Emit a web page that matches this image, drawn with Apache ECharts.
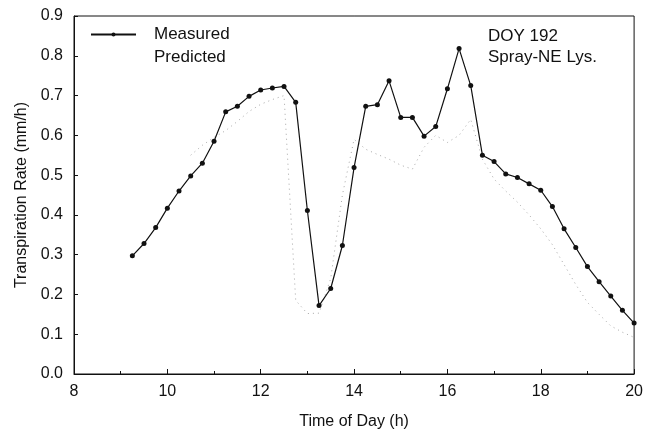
<!DOCTYPE html>
<html>
<head>
<meta charset="utf-8">
<script src="https://cdn.jsdelivr.net/npm/echarts@6/dist/echarts.min.js"></script>
<style>html,body{margin:0;padding:0;background:#fff}#c{width:646px;height:435px}</style>
</head>
<body>
<div id="c"></div>
<script>
var measuredTime = [9.25,9.5,9.75,10,10.25,10.5,10.75,11,11.25,11.5,11.75,12,12.25,12.5,12.75,13,13.25,13.5,13.75,14,14.25,14.5,14.75,15,15.25,15.5,15.75,16,16.25,16.5,16.75,17,17.25,17.5,17.75,18,18.25,18.5,18.75,19,19.25,19.5,19.75,20];
var measuredRate = [0.297,0.328,0.368,0.417,0.460,0.498,0.530,0.585,0.659,0.673,0.698,0.714,0.719,0.723,0.683,0.411,0.172,0.215,0.323,0.519,0.673,0.677,0.737,0.645,0.645,0.598,0.622,0.717,0.818,0.725,0.550,0.534,0.503,0.494,0.478,0.462,0.421,0.365,0.318,0.270,0.232,0.196,0.160,0.128];
var predictedTime = [10.5,10.75,11,11.25,11.5,11.75,12,12.25,12.5,12.75,13,13.25,13.5,13.75,14,14.25,14.5,14.75,15,15.25,15.5,15.75,16,16.25,16.5,16.75,17,17.25,17.5,17.75,18,18.25,18.5,18.75,19,19.25,19.5,19.75,20];
var predictedRate = [0.550,0.575,0.595,0.612,0.635,0.660,0.678,0.690,0.700,0.185,0.152,0.153,0.240,0.450,0.590,0.565,0.552,0.540,0.525,0.515,0.570,0.600,0.582,0.600,0.640,0.540,0.490,0.460,0.432,0.400,0.365,0.325,0.275,0.225,0.180,0.150,0.121,0.105,0.092];
var xTicks = [8,10,12,14,16,18,20];
var yTicks = [0,0.1,0.2,0.3,0.4,0.5,0.6,0.7,0.8,0.9];

function pairs(xs, ys){ return xs.map(function(x,i){ return [x, ys[i]]; }); }

var FONT = '"Liberation Sans", Arial, Helvetica, sans-serif';
var chart = echarts.init(document.getElementById('c'), null, {renderer:'canvas'});
chart.setOption({
  backgroundColor:'#fff',
  animation:false,
  textStyle:{fontFamily:FONT, color:'#111'},
  title:{
    text:'DOY 192\nSpray-NE Lys.',
    left:483, top:21,
    textStyle:{fontFamily:FONT, fontSize:17, fontWeight:'normal', color:'#111', lineHeight:21}
  },
  legend:{
    orient:'vertical', left:85, top:20,
    itemWidth:45, itemHeight:5, itemGap:4,
    textStyle:{fontFamily:FONT, fontSize:17, color:'#111', lineHeight:19, padding:[0,0,0,13]},
    data:[{name:'Measured'},{name:'Predicted', icon:'none'}]
  },
  grid:{left:74, right:8, top:16, bottom:58, show:true, borderColor:'#111', borderWidth:1, backgroundColor:'transparent'},
  xAxis:{
    type:'value', min:xTicks[0], max:xTicks[xTicks.length-1], interval:2,
    name:'Time of Day (h)', nameLocation:'middle', nameGap:40,
    nameTextStyle:{fontFamily:FONT, fontSize:16, color:'#111'},
    axisLine:{show:true, lineStyle:{color:'#111', width:1}},
    axisTick:{show:true, inside:true, length:5, lineStyle:{color:'#111'}},
    minorTick:{show:true, splitNumber:2, length:3, lineStyle:{color:'#111'}},
    axisLabel:{fontFamily:FONT, fontSize:16, color:'#111', margin:10},
    splitLine:{show:false}
  },
  yAxis:{
    type:'value', min:yTicks[0], max:yTicks[yTicks.length-1], interval:0.1,
    name:'Transpiration Rate (mm/h)', nameLocation:'middle', nameGap:44,
    nameTextStyle:{fontFamily:FONT, fontSize:16, color:'#111'},
    axisLine:{show:true, lineStyle:{color:'#111', width:1}},
    axisTick:{show:true, inside:true, length:4, lineStyle:{color:'#111'}},
    axisLabel:{fontFamily:FONT, fontSize:16, color:'#111', margin:11, formatter:function(v){return v.toFixed(1);}},
    splitLine:{show:false}
  },
  series:[
    {
      name:'Measured', type:'line', data:pairs(measuredTime, measuredRate),
      symbol:'circle', symbolSize:5, showSymbol:true,
      lineStyle:{color:'#111', width:1.2},
      itemStyle:{color:'#111'},
      z:3
    },
    {
      name:'Predicted', type:'line', data:pairs(predictedTime, predictedRate),
      symbol:'none',
      lineStyle:{color:'#a8a8a8', width:1, type:[1,4]},
      itemStyle:{color:'#a8a8a8'},
      z:2
    }
  ]
});
</script>
</body>
</html>
